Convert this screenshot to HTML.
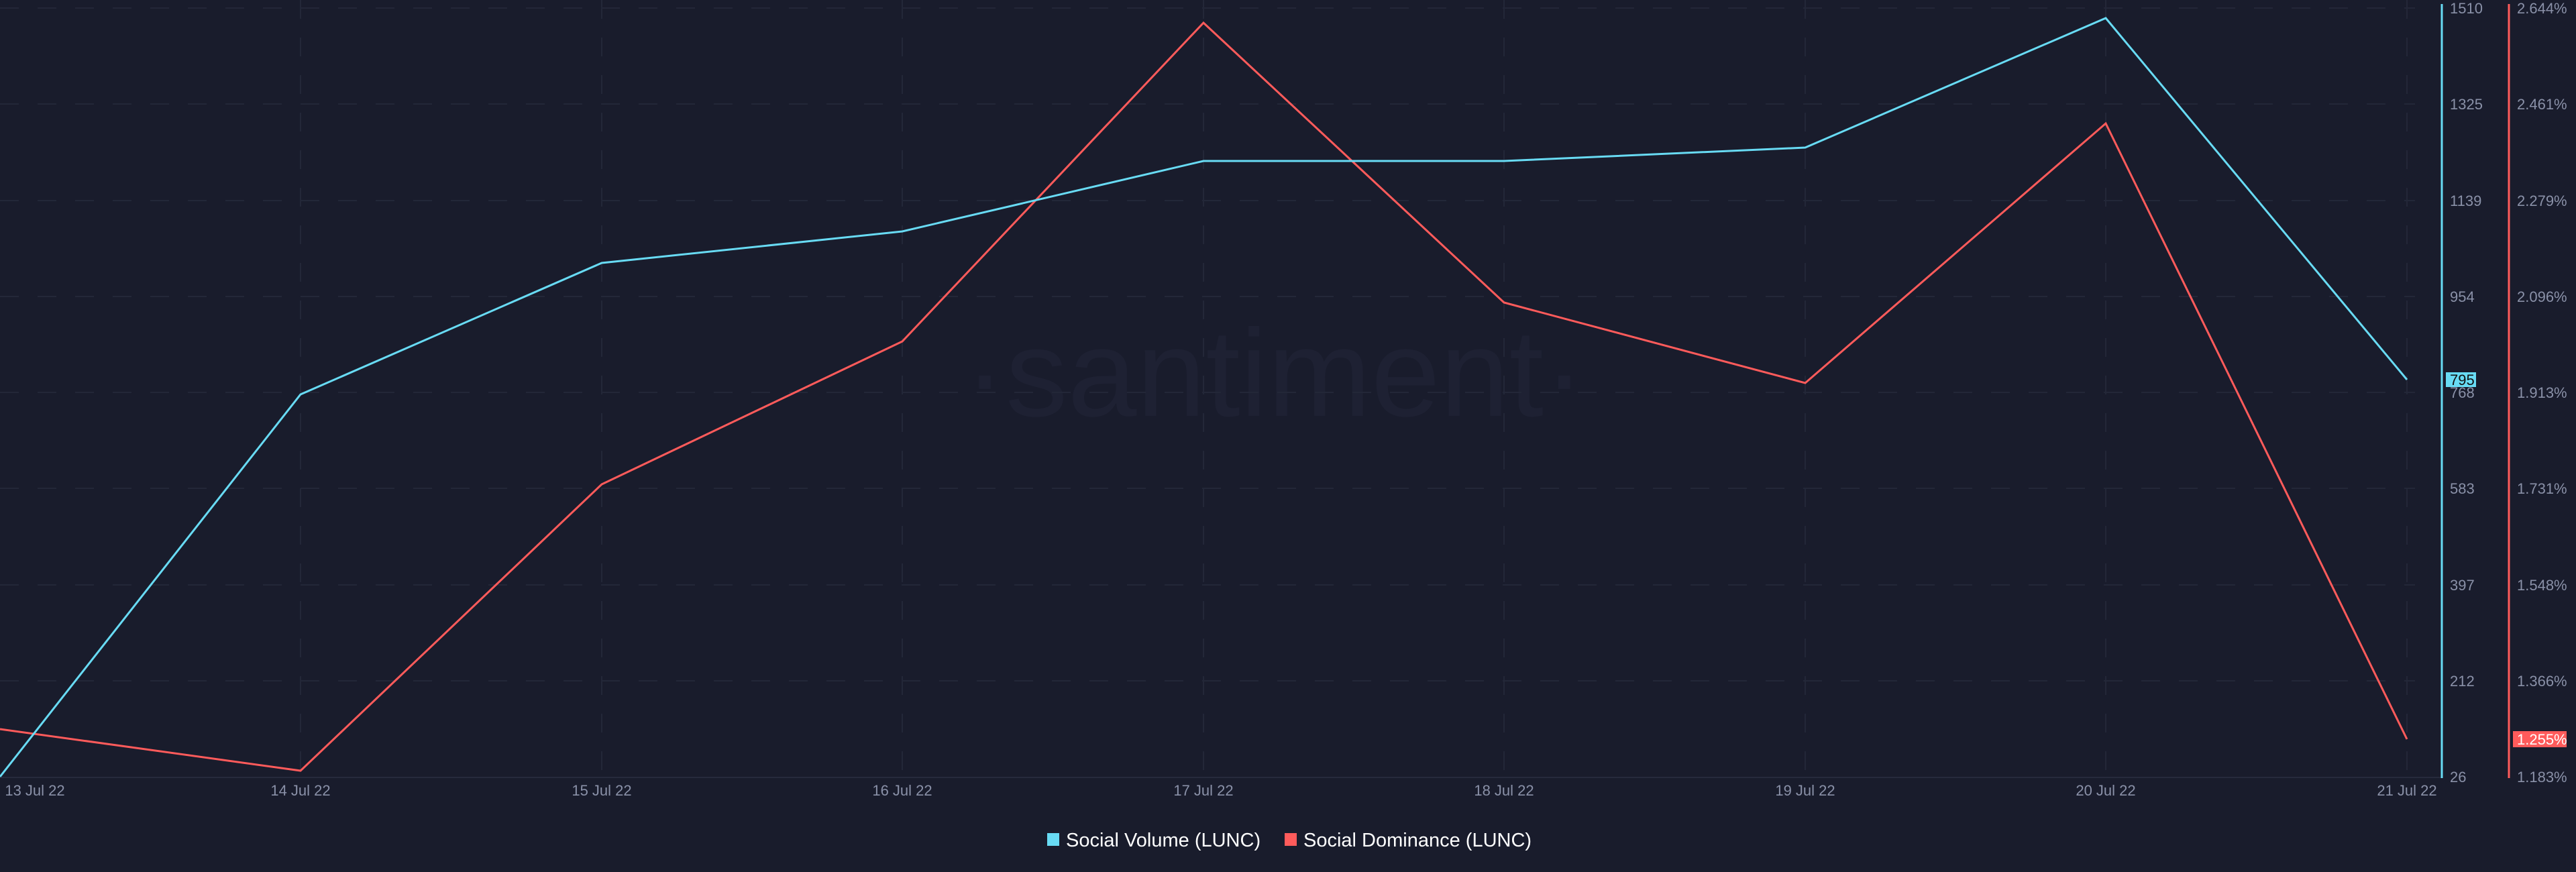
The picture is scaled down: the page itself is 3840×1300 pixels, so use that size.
<!DOCTYPE html>
<html><head><meta charset="utf-8"><style>
html,body{margin:0;padding:0;background:#191c2c;}
svg{display:block}
text{font-family:"Liberation Sans",sans-serif;}
</style></head><body>
<svg width="3840" height="1300" viewBox="0 0 3840 1300" xmlns="http://www.w3.org/2000/svg">
<rect width="3840" height="1300" fill="#191c2c"/>
<text x="1900" y="620" font-size="185" fill="#1e2133" text-anchor="middle">·santiment·</text>
<g stroke="#232738" stroke-width="2" stroke-dasharray="28,28">
<line x1="0" y1="12" x2="3600" y2="12"/>
<line x1="0" y1="155" x2="3600" y2="155"/>
<line x1="0" y1="299" x2="3600" y2="299"/>
<line x1="0" y1="442" x2="3600" y2="442"/>
<line x1="0" y1="585" x2="3600" y2="585"/>
<line x1="0" y1="728" x2="3600" y2="728"/>
<line x1="0" y1="872" x2="3600" y2="872"/>
<line x1="0" y1="1015" x2="3600" y2="1015"/>
<line x1="448" y1="0" x2="448" y2="1158"/>
<line x1="897" y1="0" x2="897" y2="1158"/>
<line x1="1345" y1="0" x2="1345" y2="1158"/>
<line x1="1794" y1="0" x2="1794" y2="1158"/>
<line x1="2242" y1="0" x2="2242" y2="1158"/>
<line x1="2691" y1="0" x2="2691" y2="1158"/>
<line x1="3139" y1="0" x2="3139" y2="1158"/>
<line x1="3588" y1="0" x2="3588" y2="1158"/>
</g>
<line x1="0" y1="1159" x2="3640" y2="1159" stroke="#262a3c" stroke-width="2"/>
<polyline fill="none" stroke="#ff5b5b" stroke-width="3" points="0,1087 448,1149 897,722 1345,509 1794,34 2242,451 2691,571 3139,184 3588,1102"/>
<polyline fill="none" stroke="#68dbf4" stroke-width="3" points="0,1158 448,588 897,392 1345,345 1794,240 2242,240 2691,220 3139,27 3588,566"/>
<line x1="3640" y1="6" x2="3640" y2="1160" stroke="#68dbf4" stroke-width="3"/>
<line x1="3740" y1="6" x2="3740" y2="1160" stroke="#ff5b5b" stroke-width="3"/>
<g font-size="22" fill="#8a91a8">
<text x="3652" y="20">1510</text><text x="3652" y="163">1325</text><text x="3652" y="307">1139</text>
<text x="3652" y="450">954</text><text x="3652" y="593">768</text><text x="3652" y="736">583</text>
<text x="3652" y="880">397</text><text x="3652" y="1023">212</text><text x="3652" y="1166">26</text>
<text x="3752" y="20">2.644%</text><text x="3752" y="163">2.461%</text><text x="3752" y="307">2.279%</text>
<text x="3752" y="450">2.096%</text><text x="3752" y="593">1.913%</text><text x="3752" y="736">1.731%</text>
<text x="3752" y="880">1.548%</text><text x="3752" y="1023">1.366%</text><text x="3752" y="1166">1.183%</text>
</g>
<rect x="3646" y="555" width="45" height="22" fill="#68dbf4"/>
<text x="3652" y="574" font-size="22" fill="#111">795</text>
<rect x="3746" y="1090" width="80" height="24" fill="#ff5b5b"/>
<text x="3752" y="1110" font-size="22" fill="#fff">1.255%</text>
<g font-size="22" fill="#8a91a8" text-anchor="middle">
<text x="52" y="1186">13 Jul 22</text><text x="448" y="1186">14 Jul 22</text><text x="897" y="1186">15 Jul 22</text>
<text x="1345" y="1186">16 Jul 22</text><text x="1794" y="1186">17 Jul 22</text><text x="2242" y="1186">18 Jul 22</text>
<text x="2691" y="1186">19 Jul 22</text><text x="3139" y="1186">20 Jul 22</text><text x="3588" y="1186">21 Jul 22</text>
</g>
<rect x="1561" y="1242" width="18" height="19" fill="#68dbf4"/>
<text x="1589" y="1262" font-size="29" fill="#fff">Social Volume (LUNC)</text>
<rect x="1915" y="1242" width="18" height="19" fill="#ff5b5b"/>
<text x="1943" y="1262" font-size="29" fill="#fff">Social Dominance (LUNC)</text>
</svg>
</body></html>
